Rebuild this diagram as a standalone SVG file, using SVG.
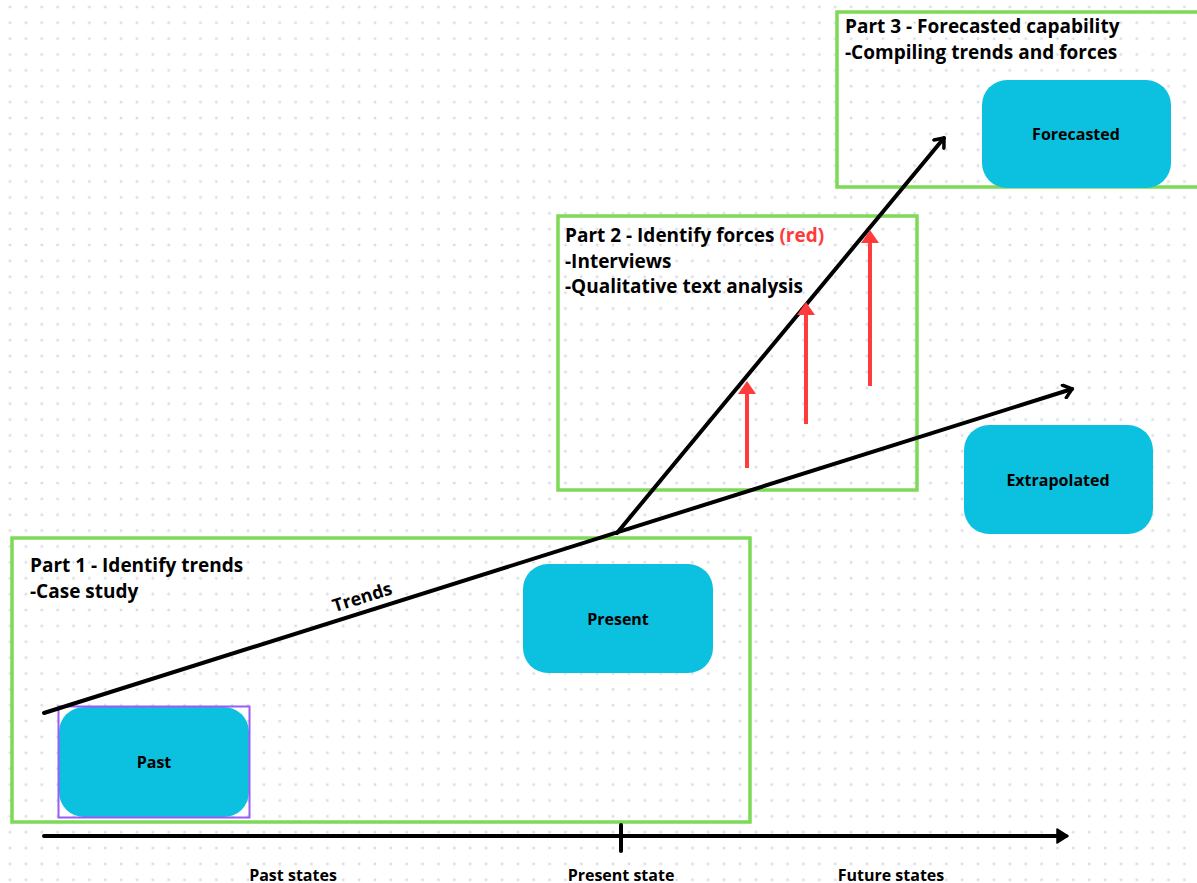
<svg xmlns="http://www.w3.org/2000/svg" width="1197" height="883" viewBox="0 0 1197 883">
<defs>
<pattern id="dots" x="2" y="-1" width="15.87" height="15.87" patternUnits="userSpaceOnUse">
<path d="M6.5,8 h3 M8,6.5 v3" stroke="#cfd3df" stroke-width="1"/>
</pattern>
<marker id="chev" markerWidth="16" markerHeight="16" refX="11" refY="8" orient="auto" markerUnits="userSpaceOnUse">
<path d="M3,1.5 L11,8 L3,14.5" fill="none" stroke="#000" stroke-width="3.5" stroke-linecap="round" stroke-linejoin="round"/>
</marker>
<marker id="tri" markerWidth="14" markerHeight="18" refX="10" refY="9" orient="auto" markerUnits="userSpaceOnUse">
<path d="M1,2 L12,9 L1,16 Z" fill="#000" stroke="#000" stroke-width="1.5" stroke-linejoin="round"/>
</marker>
<marker id="red" markerWidth="16" markerHeight="20" refX="1" refY="10" orient="auto" markerUnits="userSpaceOnUse">
<path d="M0,1 L13,10 L0,19 Z" fill="#ff3b3b"/>
</marker>
</defs>
<style>
.grp{fill:none;stroke:#7ed957;stroke-width:3.5}
.node{fill:#0cc0df}
.t{font-family:"Open Sans","Noto Sans","DejaVu Sans",sans-serif;font-weight:bold;fill:#000}
.h{font-size:19px}
.n{font-size:16px;text-anchor:middle}
.ln{stroke:#000;stroke-width:4;fill:none;stroke-linecap:round}
.rd{stroke:#ff3b3b;stroke-width:4;fill:none}
</style>
<rect width="1197" height="883" fill="#fff"/>
<rect width="1197" height="883" fill="url(#dots)"/>

<g id="part3">
<rect class="grp" x="837" y="12" width="364" height="175"/>
<text class="t h" x="845" y="33">Part 3 - Forecasted capability</text>
<text class="t h" x="845" y="59">-Compiling trends and forces</text>
</g>
<g id="forecasted">
<rect class="node" x="982" y="80" width="189" height="108" rx="25"/>
<text class="t n" x="1076" y="140">Forecasted</text>
</g>
<g id="part2">
<rect class="grp" x="558" y="216" width="359" height="274"/>
<text class="t h" x="565" y="242">Part 2 - Identify forces <tspan fill="#ff3b3b">(red)</tspan></text>
<text class="t h" x="565" y="268">-Interviews</text>
<text class="t h" x="565" y="293">-Qualitative text analysis</text>
</g>
<g id="extrapolated">
<rect class="node" x="964" y="425" width="189" height="109" rx="25"/>
<text class="t n" x="1058" y="486">Extrapolated</text>
</g>
<g id="part1">
<rect class="grp" x="12" y="538" width="738" height="284"/>
<text class="t h" x="30" y="572">Part 1 - Identify trends</text>
<text class="t h" x="30" y="598">-Case study</text>
</g>
<g id="present">
<rect class="node" x="523" y="564" width="190" height="109" rx="25"/>
<text class="t n" x="618" y="625">Present</text>
</g>
<g id="past">
<rect class="node" x="59" y="707" width="190" height="110" rx="25"/>
<rect x="58.5" y="706.5" width="191" height="111" fill="none" stroke="#9b5cf6" stroke-width="2"/>
<text class="t n" x="154" y="768">Past</text>
</g>

<g id="connectors">
<line class="ln" x1="44" y1="713" x2="1072" y2="389" marker-end="url(#chev)"/>
<line class="ln" x1="617" y1="533" x2="944" y2="138" marker-end="url(#chev)"/>
<line class="ln" x1="44" y1="836" x2="1066" y2="836" marker-end="url(#tri)"/>
<line class="ln" x1="621" y1="825" x2="621" y2="851" stroke-linecap="butt"/>
<line class="rd" x1="747" y1="468" x2="747" y2="393" marker-end="url(#red)"/>
<line class="rd" x1="806" y1="424" x2="806" y2="314" marker-end="url(#red)"/>
<line class="rd" x1="870" y1="386" x2="870" y2="242" marker-end="url(#red)"/>
<text class="t" font-size="18" text-anchor="middle" transform="translate(364,603) rotate(-17.5)">Trends</text>
</g>

<g id="axis-labels">
<text class="t n" x="293" y="881">Past states</text>
<text class="t n" x="621" y="881">Present state</text>
<text class="t n" x="891" y="881">Future states</text>
</g>
</svg>
